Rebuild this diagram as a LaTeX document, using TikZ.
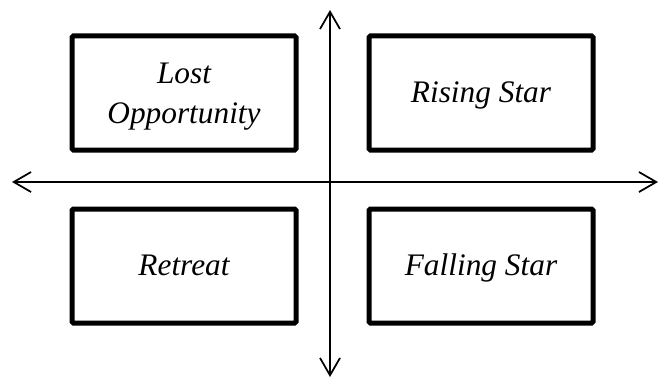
\documentclass[tikz,border=0pt]{standalone}
\usepackage{fontspec}
\setmainfont{Liberation Serif}
\usetikzlibrary{arrows.meta}
\begin{document}
\begin{tikzpicture}[x=0.75pt,y=-0.75pt,
  quad/.style={draw=black,line width=3.75pt,rounded corners=1pt,minimum width=168pt,minimum height=85.5pt,inner sep=0pt,align=center,font=\fontsize{23.5}{30}\selectfont\itshape},
  single/.style={text height=14pt,text depth=0pt},
  double/.style={text height=45pt,text depth=0pt},
  axis/.style={line width=1.5pt,{Straight Barb[length=13pt,width=15pt,line width=1.3pt]}-{Straight Barb[length=13pt,width=15pt,line width=1.3pt]}}]
\useasboundingbox (0,0) rectangle (659,378);
\coordinate (top) at (330,10);
\coordinate (bot) at (330,377);
\coordinate (lft) at (12,182);
\coordinate (rgt) at (658,182);
\draw[axis] (top) -- (bot);
\draw[axis] (lft) -- (rgt);
\node[quad,double] (lo) at (184,93) {Lost\\Opportunity};
\node[quad,single] (rs) at (481,93) {Rising Star};
\node[quad,single] (re) at (184,266) {Retreat};
\node[quad,single] (fs) at (481,266) {Falling Star};
\end{tikzpicture}
\end{document}
